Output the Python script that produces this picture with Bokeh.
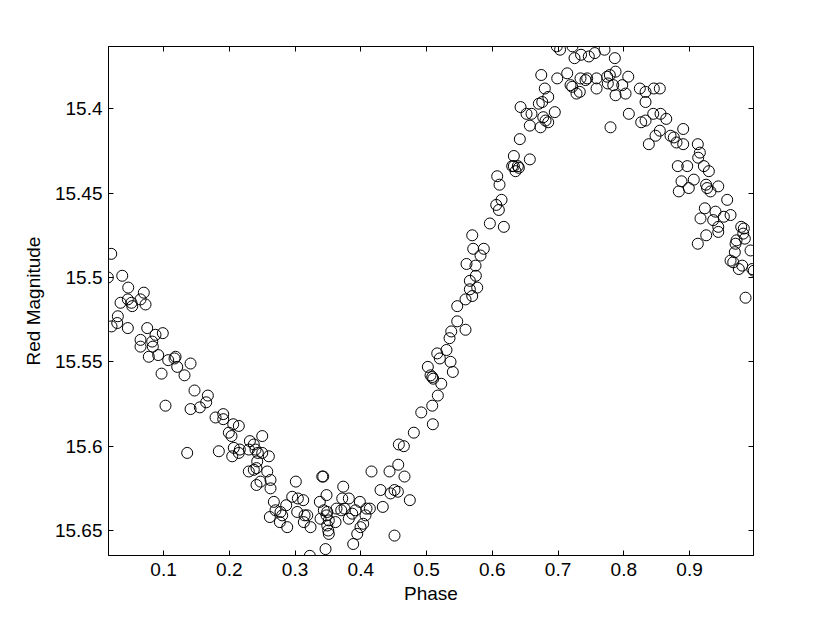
from bokeh.plotting import figure
from bokeh.models import Range1d, LinearAxis, FixedTicker
from bokeh.embed import file_html
from bokeh.resources import INLINE

phase = [
    0.0205, 0.0153, 0.0372, 0.0463, 0.0700, 0.0346, 0.0457, 0.0513, 0.0524, 0.0650,
    0.0726, 0.0305, 0.0296, 0.0209, 0.0457, 0.0752, 0.0878, 0.0989, 0.0650, 0.0650,
    0.0828, 0.0837, 0.0776, 0.0919, 0.1071, 0.1183, 0.1167, 0.1208, 0.1411, 0.0970,
    0.1319, 0.1471, 0.1674, 0.1649, 0.1552, 0.1411, 0.1030, 0.1791, 0.1908, 0.1908,
    0.2060, 0.1993, 0.2034, 0.2145, 0.2069, 0.2045, 0.2145, 0.1360, 0.1841,
    0.2501, 0.2313, 0.2373, 0.2160, 0.2297, 0.2399, 0.2434, 0.2501, 0.2602, 0.2425,
    0.2414, 0.2297, 0.2373, 0.2577, 0.2627, 0.2475, 0.2414, 0.2627, 0.2678, 0.2703,
    0.2779, 0.2617, 0.2805, 0.2769, 0.2881, 0.2866, 0.2957, 0.3012, 0.3043, 0.3125,
    0.3033, 0.3145, 0.3186, 0.3134, 0.3236, 0.3225, 0.3414, 0.3429, 0.3377, 0.3479,
    0.3438, 0.3490, 0.3388, 0.3479, 0.3514, 0.3490, 0.3505, 0.3514, 0.3616, 0.3464,
    0.3631, 0.3703, 0.3733, 0.3718, 0.3818, 0.3753, 0.3818, 0.3870, 0.3986, 0.3920,
    0.4087, 0.4138, 0.4072, 0.4037, 0.3996, 0.3946, 0.3885, 0.4163, 0.4300, 0.4335,
    0.4437, 0.4452, 0.4513, 0.4570, 0.4564, 0.4665, 0.4746, 0.4513, 0.4579, 0.4655,
    0.4807, 0.4920,
    0.5096, 0.5087, 0.5172, 0.5224, 0.5020, 0.5061, 0.5102, 0.5087, 0.5163, 0.5202,
    0.5304, 0.5365, 0.5400, 0.5350, 0.5376, 0.5467, 0.5593, 0.5467, 0.5593, 0.5695,
    0.5659, 0.5771, 0.5659, 0.5750, 0.5608, 0.5745, 0.5821, 0.5710, 0.5871, 0.5695,
    0.5963, 0.6176, 0.6060, 0.6100, 0.6141, 0.6075, 0.6110, 0.6328, 0.6328, 0.6389,
    0.6354, 0.6303, 0.6404, 0.6571,
    0.6419, 0.6430, 0.6521, 0.6597, 0.6571, 0.6775, 0.6810, 0.6734, 0.6851, 0.6951,
    0.6708, 0.6760, 0.6851, 0.6799, 0.6745, 0.6988, 0.7140, 0.7190, 0.7216, 0.7342,
    0.7418, 0.7444, 0.7331, 0.7281, 0.7586, 0.7586, 0.7748, 0.7788, 0.7875, 0.7757,
    0.7840, 0.7875, 0.7977, 0.8027, 0.8068, 0.8077, 0.7798, 0.6981, 0.7031, 0.7220,
    0.7251, 0.7350, 0.7468, 0.7559, 0.7707, 0.7864, 0.8244, 0.8331, 0.8457, 0.8548,
    0.8331,
    0.8265, 0.8331, 0.8448, 0.8559, 0.8646, 0.8548, 0.8483, 0.8381, 0.8711, 0.8761,
    0.8904, 0.8802, 0.8904, 0.9126, 0.9157, 0.9132, 0.8822, 0.8965, 0.9218, 0.9294,
    0.9065, 0.8878, 0.8989, 0.8837, 0.9252, 0.9267, 0.9319, 0.9437, 0.9573, 0.9233,
    0.9167, 0.9395, 0.9360, 0.9437, 0.9437, 0.9522, 0.9624, 0.9254, 0.9126, 0.9786,
    0.9826, 0.9817, 0.9841, 0.9715, 0.9700, 0.9928, 0.9689, 0.9624, 0.9665, 0.9802,
    0.9750, 0.9954, 0.9978, 0.9852,
]

red_mag = [
    15.486, 15.500, 15.499, 15.506, 15.509, 15.515, 15.513, 15.515, 15.517, 15.513,
    15.516, 15.523, 15.527, 15.529, 15.530, 15.530, 15.534, 15.533, 15.537, 15.541,
    15.538, 15.541, 15.547, 15.546, 15.549, 15.547, 15.548, 15.553, 15.551, 15.557,
    15.558, 15.567, 15.570, 15.574, 15.577, 15.578, 15.576, 15.583, 15.581, 15.584,
    15.587, 15.592, 15.594, 15.588, 15.601, 15.606, 15.604, 15.604, 15.603,
    15.594, 15.597, 15.599, 15.602, 15.602, 15.602, 15.604, 15.604, 15.606, 15.609,
    15.613, 15.615, 15.614, 15.615, 15.620, 15.621, 15.623, 15.625, 15.633, 15.638,
    15.639, 15.642, 15.641, 15.645, 15.648, 15.635, 15.630, 15.621, 15.631, 15.632,
    15.639, 15.641, 15.641, 15.645, 15.648, 15.665, 15.618, 15.618, 15.633, 15.629,
    15.638, 15.639, 15.643, 15.641, 15.644, 15.647, 15.650, 15.652, 15.645, 15.661,
    15.637, 15.638, 15.624, 15.631, 15.631, 15.637, 15.643, 15.640, 15.633, 15.638,
    15.637, 15.637, 15.641, 15.646, 15.648, 15.652, 15.658, 15.615, 15.626, 15.636,
    15.615, 15.628, 15.626, 15.611, 15.627, 15.618, 15.632, 15.653, 15.599, 15.600,
    15.592, 15.580,
    15.587, 15.576, 15.570, 15.563, 15.553, 15.558, 15.560, 15.559, 15.545, 15.548,
    15.543, 15.550, 15.556, 15.536, 15.532, 15.526, 15.531, 15.517, 15.513, 15.511,
    15.507, 15.506, 15.502, 15.499, 15.492, 15.493, 15.487, 15.483, 15.483, 15.475,
    15.468, 15.470, 15.457, 15.460, 15.454, 15.440, 15.445, 15.428, 15.434, 15.434,
    15.437, 15.434, 15.435, 15.430,
    15.418, 15.399, 15.403, 15.403, 15.410, 15.405, 15.407, 15.411, 15.408, 15.402,
    15.397, 15.396, 15.393, 15.388, 15.380, 15.382, 15.379, 15.386, 15.387, 15.382,
    15.383, 15.382, 15.390, 15.391, 15.382, 15.388, 15.381, 15.380, 15.378, 15.385,
    15.386, 15.392, 15.386, 15.391, 15.381, 15.403, 15.411, 15.363, 15.365, 15.363,
    15.370, 15.368, 15.369, 15.367, 15.365, 15.370, 15.388, 15.390, 15.388, 15.388,
    15.396,
    15.408, 15.407, 15.403, 15.403, 15.406, 15.413, 15.416, 15.421, 15.416, 15.417,
    15.412, 15.420, 15.421, 15.421, 15.426, 15.429, 15.434, 15.434, 15.434, 15.437,
    15.442, 15.443, 15.447, 15.449, 15.445, 15.447, 15.449, 15.446, 15.454, 15.459,
    15.465, 15.461, 15.466, 15.470, 15.473, 15.464, 15.463, 15.475, 15.480, 15.470,
    15.471, 15.474, 15.477, 15.478, 15.480, 15.484, 15.485, 15.490, 15.491, 15.493,
    15.495, 15.495, 15.496, 15.512,
]

x_ticks = [0.1, 0.2, 0.3, 0.4, 0.5, 0.6, 0.7, 0.8, 0.9]
y_ticks = [15.4, 15.45, 15.5, 15.55, 15.6, 15.65]
y_tick_labels = ["15.4", "15.45", "15.5", "15.55", "15.6", "15.65"]

FONT = "Liberation Sans"
FS = "19px"

p = figure(
    frame_width=645, frame_height=509,
    min_border_left=108, min_border_right=60, min_border_top=46, min_border_bottom=58,
    x_range=Range1d(0.0163, 0.9973), y_range=Range1d(15.6648, 15.3631),
    output_backend="svg", toolbar_location=None,
    x_axis_label="Phase", y_axis_label="Red Magnitude",
)
p.background_fill_color = "white"
p.border_fill_color = "white"
p.outline_line_color = "black"
p.outline_line_width = 1
p.xgrid.visible = False
p.ygrid.visible = False

p.scatter(phase, red_mag, marker="circle", size=11, fill_color=None,
          line_color="black", line_width=1)

for ax in p.xaxis:
    ax.ticker = FixedTicker(ticks=x_ticks)
    ax.major_label_overrides = {t: str(t) for t in x_ticks}
    ax.major_label_standoff = 7
    ax.axis_label_standoff = 4
for ax in p.yaxis:
    ax.ticker = FixedTicker(ticks=y_ticks)
    ax.major_label_overrides = dict(zip(y_ticks, y_tick_labels))
    ax.major_label_standoff = 6
    ax.axis_label_standoff = 8

for ax in list(p.xaxis) + list(p.yaxis):
    ax.major_tick_in = 5
    ax.major_tick_out = 0
    ax.minor_tick_line_color = None
    ax.axis_line_color = "black"
    ax.major_tick_line_color = "black"
    ax.major_label_text_font = FONT
    ax.major_label_text_font_size = FS
    ax.major_label_text_color = "black"
    ax.axis_label_text_font = FONT
    ax.axis_label_text_font_size = FS
    ax.axis_label_text_font_style = "normal"
    ax.axis_label_text_color = "black"

top = LinearAxis(ticker=FixedTicker(ticks=x_ticks), major_tick_in=5, major_tick_out=0,
                 minor_tick_line_color=None, major_label_text_font_size="0px",
                 major_label_overrides={t: "" for t in x_ticks})
right = LinearAxis(ticker=FixedTicker(ticks=y_ticks), major_tick_in=5, major_tick_out=0,
                   minor_tick_line_color=None, major_label_text_font_size="0px",
                   major_label_overrides={t: "" for t in y_ticks})
p.add_layout(top, "above")
p.add_layout(right, "right")

open("out.html", "w").write(file_html(p, INLINE))
